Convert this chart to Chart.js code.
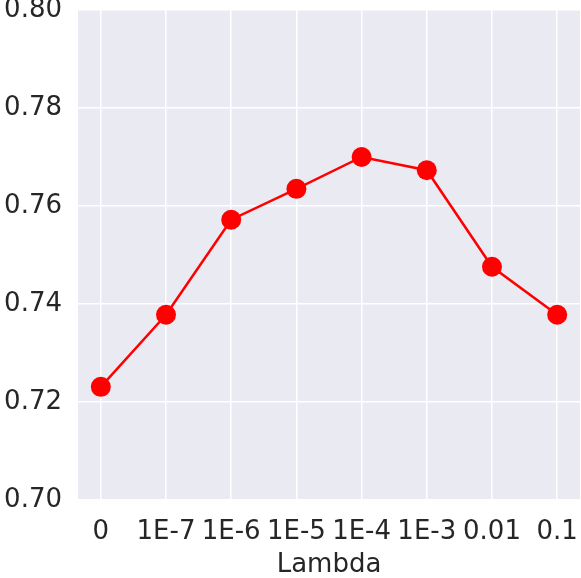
<!DOCTYPE html>
<html>
<head>
<meta charset="utf-8">
<script src="https://cdn.jsdelivr.net/npm/chart.js@4"></script>
<style>
  html, body { margin: 0; padding: 0; background: #fff; }
</style>
</head>
<body>
<canvas id="myChart" width="581" height="578"></canvas>
<script>
const lambdas = ['0', '1E-7', '1E-6', '1E-5', '1E-4', '1E-3', '0.01', '0.1']
const scores = [0.7231, 0.7378, 0.7572, 0.7635, 0.7700, 0.7673, 0.7476, 0.7378]
const yTicks = [0.70, 0.72, 0.74, 0.76, 0.78, 0.80]

const TEXT = '#262626'
const FONT = "'DejaVu Sans', sans-serif"

// fundo cinza estilo seaborn
const bgPlugin = {
  id: 'bg',
  beforeDraw(chart) {
    const { ctx, chartArea: a } = chart
    ctx.save()
    ctx.fillStyle = '#EAEAF2'
    ctx.fillRect(a.left, a.top, a.right - a.left, a.bottom - a.top)
    ctx.restore()
  }
}

const ctx = document.getElementById('myChart').getContext('2d')

const data = {
  datasets: [{
    data: scores.map((v, i) => ({ x: i, y: v })),
    borderColor: '#FF0000',
    backgroundColor: '#FF0000',
    borderWidth: 2.5,
    pointRadius: 10,
    pointHoverRadius: 10,
    pointBorderWidth: 0,
    tension: 0
  }]
}

const config = {
  type: 'line',
  data,
  options: {
    responsive: false,
    animation: false,
    layout: { autoPadding: false, padding: 0 },
    plugins: { legend: { display: false }, tooltip: { enabled: false } },
    scales: {
      x: {
        type: 'linear',
        min: -0.35,
        max: 7.35,
        afterBuildTicks: axis => { axis.ticks = lambdas.map((_, i) => ({ value: i })) },
        // tamanho fixo do eixo, igual ao grafico original
        afterFit: axis => {
          axis.height = 78
          axis.paddingLeft = 0
          axis.paddingRight = 1
        },
        ticks: {
          color: TEXT,
          font: { family: FONT, size: 26, lineHeight: 1.0 },
          padding: 19,
          maxRotation: 0,
          autoSkip: false,
          callback: v => lambdas[v]
        },
        grid: { color: '#FFFFFF', lineWidth: 1.5, drawTicks: false },
        border: { display: false },
        title: {
          display: true,
          text: 'Lambda',
          color: TEXT,
          font: { family: FONT, size: 26, lineHeight: 1.0 },
          padding: { top: 0, bottom: 0 }
        }
      },
      y: {
        min: 0.70,
        max: 0.80,
        afterBuildTicks: axis => { axis.ticks = yTicks.map(v => ({ value: v })) },
        afterFit: axis => {
          axis.width = 78
          axis.paddingTop = 10
          axis.paddingBottom = 0
        },
        ticks: {
          color: TEXT,
          font: { family: FONT, size: 26, lineHeight: 1.0 },
          padding: 16,
          callback: v => v.toFixed(2)
        },
        grid: { color: '#FFFFFF', lineWidth: 1.5, drawTicks: false },
        border: { display: false }
      }
    }
  },
  plugins: [bgPlugin]
}

const myChart = new Chart(ctx, config)
</script>
</body>
</html>
